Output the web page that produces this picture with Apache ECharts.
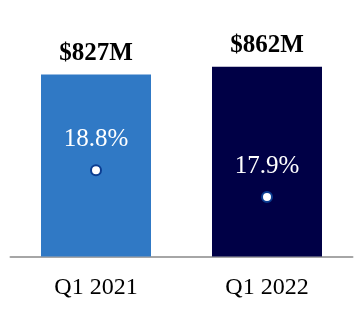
<!DOCTYPE html>
<html><head><meta charset="utf-8">
<script src="https://cdn.jsdelivr.net/npm/echarts@6/dist/echarts.min.js"></script>
<style>html,body{margin:0;padding:0;background:#fff}#c{width:362px;height:312px}</style>
</head><body><div id="c"></div>
<script>
const categories = ['Q1 2021', 'Q1 2022'];
const revenue = [827, 862];
const revenueLabels = ['$827M', '$862M'];
const margin = [18.8, 17.9];
const barColors = ['#3079c5', '#000046'];

const chart = echarts.init(document.getElementById('c'), null, {renderer: 'canvas'});
chart.setOption({
  animation: false,
  grid: {left: 10.5, right: 9.5, top: 36.5, bottom: 55.5},
  xAxis: {
    type: 'category', data: categories,
    axisLine: {lineStyle: {color: '#a6a6a6', width: 2}},
    axisTick: {show: false},
    axisLabel: {color: '#000', fontFamily: 'Liberation Serif', fontSize: 24, margin: 19}
  },
  yAxis: [
    {type: 'value', min: 0, max: 1000, show: false, splitLine: {show: false}},
    {type: 'value', min: 15.9, max: 23.3, show: false, splitLine: {show: false}}
  ],
  series: [
    {
      type: 'bar', barWidth: 110, yAxisIndex: 0,
      data: revenue.map((v, i) => ({value: v, itemStyle: {color: barColors[i]}})),
      label: {
        show: true, position: 'top', distance: 9,
        formatter: p => revenueLabels[p.dataIndex],
        fontFamily: 'Liberation Serif', fontWeight: 'bold', fontSize: 25, color: '#000'
      }
    },
    {
      type: 'line', yAxisIndex: 1, data: margin,
      symbol: 'circle', symbolSize: 10,
      lineStyle: {opacity: 0},
      itemStyle: {color: '#ffffff', borderColor: '#0b3d91', borderWidth: 2},
      label: {
        show: true, position: 'inside', offset: [0, -31],
        formatter: p => p.value.toFixed(1) + '%',
        fontFamily: 'Liberation Serif', fontSize: 25, color: '#ffffff'
      }
    }
  ]
});
</script></body></html>
